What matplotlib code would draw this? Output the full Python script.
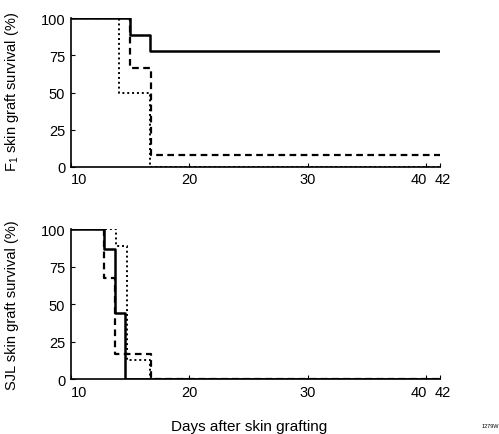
import matplotlib
matplotlib.use("Agg")
import matplotlib.pyplot as plt
from matplotlib.transforms import ScaledTranslation

plt.rcParams['font.family'] = ['Liberation Sans', 'DejaVu Sans']
plt.rcParams['mathtext.default'] = 'regular'

# survival curves (day, % surviving), step after each day
f1_solid_days = [10, 15.0, 16.7, 41.14]
f1_solid_surv = [100, 88.9, 77.8, 77.8]
f1_dash_days = [10, 15.0, 16.8, 41.14]
f1_dash_surv = [100, 66.7, 8.3, 8.3]
f1_dot_days = [10, 14.1, 16.7, 41.14]
f1_dot_surv = [100, 50.0, 0, 0]

sjl_solid_days = [10, 12.8, 13.7, 14.6, 41.14]
sjl_solid_surv = [100, 86.8, 44.4, 0, 0]
sjl_dash_days = [10, 12.8, 13.7, 16.8, 41.14]
sjl_dash_surv = [100, 67.5, 16.7, 0, 0]
sjl_dot_days = [10, 13.8, 14.7, 16.7, 41.14]
sjl_dot_surv = [100, 88.5, 12.8, 0, 0]

xticks = [10, 20, 30, 40, 41.14]
xtick_labels = ['10', '20', '30', '40', '42']
xlabel_shift = [6, 0, 0, -5, 2]   # points, labels nudged apart as in the original
yticks = [0, 25, 50, 75, 100]

fig = plt.figure(figsize=(4.99, 4.35), dpi=100)
ax1 = fig.add_axes([0.142, 0.614, 0.739, 0.342])
ax2 = fig.add_axes([0.142, 0.126, 0.739, 0.345])

def draw(ax, solid, dash, dot):
    ax.step(dot[0], dot[1], where='post', color='black', lw=1.4, ls=(0, (1, 1.5)))
    ax.step(dash[0], dash[1], where='post', color='black', lw=1.6, ls=(0, (3, 2)))
    ax.step(solid[0], solid[1], where='post', color='black', lw=1.8)
    ax.set_xlim(10, 41.14)
    ax.set_ylim(0, 100)
    ax.set_xticks(xticks)
    ax.set_xticklabels(xtick_labels)
    ax.set_yticks(yticks)
    ax.spines['top'].set_visible(False)
    ax.spines['right'].set_visible(False)
    ax.spines['left'].set_linewidth(1.2)
    ax.spines['bottom'].set_linewidth(1.2)
    ax.tick_params(direction='in', length=3, labelsize=10.5, pad=4)
    for lab, dx in zip(ax.get_xticklabels(), xlabel_shift):
        lab.set_transform(lab.get_transform() + ScaledTranslation(dx / 72, 0, fig.dpi_scale_trans))
    for s in ax.spines.values():
        s.set_zorder(0)

draw(ax1, (f1_solid_days, f1_solid_surv), (f1_dash_days, f1_dash_surv),
     (f1_dot_days, f1_dot_surv))
draw(ax2, (sjl_solid_days, sjl_solid_surv), (sjl_dash_days, sjl_dash_surv),
     (sjl_dot_days, sjl_dot_surv))

fig.text(12 / 499, 1 - 92 / 435, 'F$_1$ skin graft survival (%)', rotation=90,
         ha='center', va='center', fontsize=10.5)
fig.text(12 / 499, 1 - 305 / 435, 'SJL skin graft survival (%)', rotation=90,
         ha='center', va='center', fontsize=10.5)
fig.text(249 / 499, 1 - 427 / 435, 'Days after skin grafting', ha='center', va='center', fontsize=11)
fig.text(490 / 499, 1 - 427 / 435, '1279W', ha='center', va='center', fontsize=4)

fig.savefig('out.png', dpi=100)
